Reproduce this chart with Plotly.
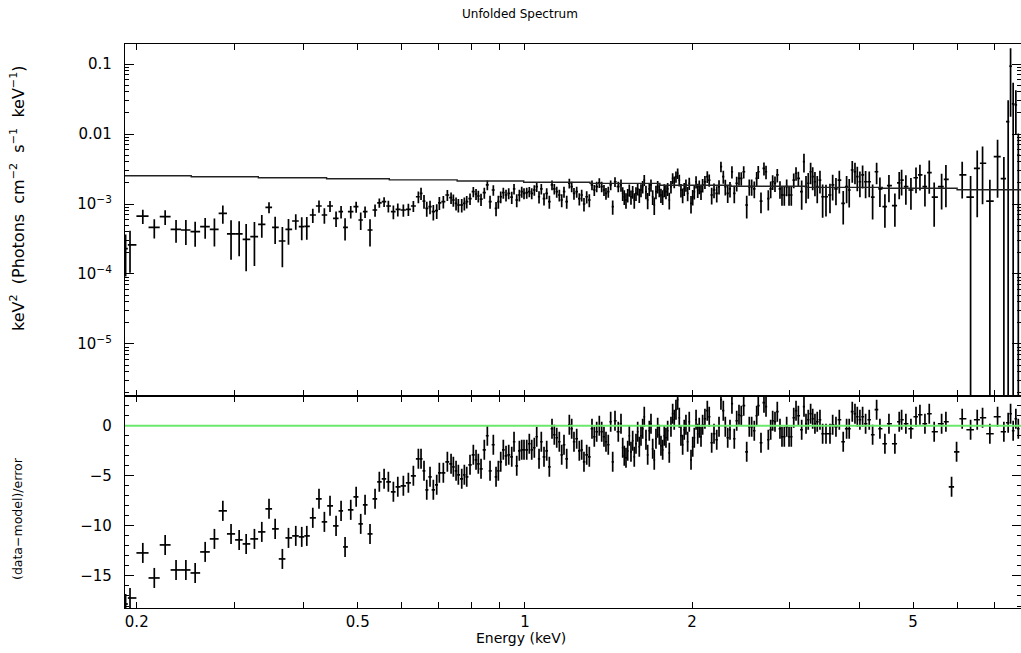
import numpy as np
import plotly.graph_objects as go

# ---------------- data ----------------
energy = [
    0.191, 0.1945, 0.2051, 0.2151, 0.2250, 0.2354, 0.2452, 0.2548, 0.2656, 0.2760,
    0.2858, 0.2957, 0.3058, 0.3148, 0.3258, 0.3359, 0.3461, 0.3550, 0.3658, 0.3752,
    0.3867, 0.3964, 0.4048, 0.4150, 0.4258, 0.4354, 0.4457, 0.4570, 0.4666, 0.4744,
    0.4857, 0.4967, 0.5062, 0.5154, 0.5261, 0.5372, 0.5468, 0.5577, 0.5677, 0.5796,
    0.5903, 0.6041, 0.6168, 0.6297, 0.6429,
    0.6500, 0.6581, 0.6656, 0.6747, 0.6840, 0.6937, 0.7013, 0.7130, 0.7250, 0.7362,
    0.7432, 0.7516, 0.7588, 0.7695, 0.7779, 0.7856, 0.7964, 0.8074, 0.8165, 0.8243,
    0.8336, 0.8450, 0.8557, 0.8653, 0.8772, 0.8871, 0.8956, 0.9045, 0.9143, 0.9246,
    0.9350, 0.9468, 0.9558, 0.9666, 0.9772, 0.9868, 0.9962, 1.0075, 1.0183, 1.0286,
    1.0397, 1.0501, 1.0602, 1.0702, 1.0823, 1.0945, 1.1065, 1.1188, 1.1296, 1.1409,
    1.1533, 1.1647, 1.1758, 1.1891, 1.2021, 1.2140, 1.2255, 1.2394, 1.2529, 1.2653,
    1.2774, 1.2918, 1.3059, 1.3205, 1.3332, 1.3465, 1.3612, 1.3747, 1.3878, 1.3994,
    1.4128, 1.4269, 1.4389, 1.4527, 1.4726,
    1.4892, 1.4998, 1.5097, 1.5204, 1.5312, 1.5414, 1.5522, 1.5632, 1.5735, 1.5847,
    1.5959, 1.6066, 1.6179, 1.6293, 1.6401, 1.6517, 1.6635, 1.6746, 1.6864, 1.6983,
    1.7095, 1.7216, 1.7339, 1.7455, 1.7577, 1.7701, 1.7818, 1.7944, 1.8072, 1.8193,
    1.8321, 1.8450, 1.8572, 1.8704, 1.8837, 1.8963, 1.9095, 1.9230, 1.9357, 1.9494,
    1.9633, 1.9764, 1.9909, 2.005, 2.018, 2.033, 2.047, 2.060, 2.075, 2.089,
    2.109, 2.130, 2.147, 2.169, 2.190, 2.215, 2.236, 2.254, 2.276, 2.295,
    2.318, 2.340, 2.359, 2.382, 2.406, 2.429, 2.452, 2.477, 2.508, 2.535,
    2.560, 2.588, 2.614, 2.631, 2.661, 2.694, 2.717, 2.743, 2.770, 2.793,
    2.820, 2.847, 2.879, 2.903, 2.931, 2.960, 2.989, 3.017, 3.048, 3.077,
    3.107,
    3.150, 3.180, 3.207, 3.237, 3.269, 3.297, 3.328, 3.360, 3.398, 3.436,
    3.484, 3.542, 3.582, 3.631, 3.682, 3.742, 3.795, 3.836, 3.885, 3.929,
    3.967, 4.010, 4.055, 4.106, 4.168, 4.227, 4.298, 4.357, 4.448, 4.523,
    4.636, 4.720, 4.767, 4.852, 4.955, 5.060, 5.143, 5.251, 5.346, 5.456,
    5.627, 5.728, 5.864, 5.987, 6.128, 6.345, 6.522, 6.668, 6.873, 7.096,
    7.284, 7.415, 7.489, 7.570, 7.655, 7.733,
]

# keV^2 (Photons cm^-2 s^-1 keV^-1); None = not shown on the log panel
flux = [
    2.3e-4, 2.6e-4, 6.73e-4, 4.64e-4, 6.58e-4, 4.35e-4, 4.25e-4, 4.02e-4, 4.74e-4, 4.35e-4,
    7.36e-4, 3.73e-4, 3.73e-4, 3.13e-4, 3.42e-4, 5.13e-4, 8.96e-4, 4.64e-4, 2.96e-4, 4.35e-4,
    5.72e-4, 4.74e-4, 4.8e-4, 6.96e-4, 9.36e-4, 6.96e-4, 9.36e-4, 6.24e-4, 7.77e-4, 4.64e-4,
    7.77e-4, 9.15e-4, 5.91e-4, 7.77e-4, 4.25e-4, 8.21e-4, 1.04e-3, 1.08e-3, 9.36e-4, 7.77e-4,
    8.39e-4, 8.21e-4, 8.39e-4, 9.36e-4, 1.27e-3,
    1.42e-3, 1.10e-3, 8.67e-4, 9.15e-4, 7.77e-4, 8.02e-4, 1.04e-3, 1.08e-3, 1.345e-3, 1.23e-3,
    1.14e-3, 1.02e-3, 9.67e-4, 9.67e-4, 1.02e-3, 1.08e-3, 1.19e-3, 1.50e-3, 1.39e-3, 1.30e-3,
    1.17e-3, 1.45e-3, 1.87e-3, 1.08e-3, 1.585e-3, 8.67e-4, 1.08e-3, 1.27e-3, 1.45e-3, 1.345e-3,
    1.42e-3, 1.25e-3, 1.65e-3, 1.14e-3, 1.345e-3, 1.50e-3, 1.42e-3, 1.45e-3, 1.50e-3, 1.42e-3,
    1.585e-3, 1.77e-3, 1.27e-3, 1.65e-3, 1.19e-3, 1.42e-3, 1.08e-3, 1.87e-3, 1.65e-3, 1.50e-3,
    1.345e-3, 1.14e-3, 1.50e-3, 1.08e-3, 1.98e-3, 1.77e-3, 1.42e-3, 1.50e-3, 1.19e-3, 1.345e-3,
    1.00e-3, 1.27e-3, 1.14e-3, 1.87e-3, 1.585e-3, 1.77e-3, 2.01e-3, 1.77e-3, 1.585e-3, 1.42e-3,
    1.50e-3, 1.87e-3, 9.15e-4, 2.08e-3, 1.77e-3,
    1.87e-3, 1.42e-3, 1.27e-3, 1.14e-3, 1.345e-3, 1.585e-3, 1.27e-3, 1.50e-3, 1.14e-3, 1.42e-3,
    1.65e-3, 1.345e-3, 1.585e-3, 1.77e-3, 2.20e-3, 1.50e-3, 1.14e-3, 1.65e-3, 1.87e-3, 1.27e-3,
    9.67e-4, 1.50e-3, 1.77e-3, 1.585e-3, 1.345e-3, 1.27e-3, 1.585e-3, 1.50e-3, 1.65e-3, 1.14e-3,
    1.77e-3, 2.33e-3, 2.08e-3, 2.46e-3, 2.75e-3, 2.20e-3, 1.585e-3, 1.345e-3, 1.65e-3, 1.87e-3,
    1.42e-3, 1.98e-3, 1.02e-3, 1.27e-3, 1.50e-3, 2.08e-3, 1.585e-3, 1.77e-3, 1.50e-3, 1.87e-3,
    2.08e-3, 2.46e-3, 2.20e-3, 1.345e-3, 1.585e-3, 1.42e-3, 1.77e-3, 3.42e-3, 2.46e-3, 1.77e-3,
    1.42e-3, 1.65e-3, 2.89e-3, 1.42e-3, 1.98e-3, 2.33e-3, 2.33e-3, 2.89e-3, 9.67e-4, 1.77e-3,
    1.77e-3, 1.65e-3, 2.33e-3, 2.89e-3, 1.10e-3, 3.23e-3, 2.89e-3, 1.19e-3, 1.65e-3, 2.08e-3,
    1.98e-3, 2.60e-3, 1.65e-3, 1.345e-3, 1.345e-3, 1.77e-3, 1.345e-3, 1.345e-3, 2.20e-3, 2.75e-3,
    2.33e-3,
    1.50e-3, 4.02e-3, 1.77e-3, 1.98e-3, 2.89e-3, 2.46e-3, 2.08e-3, 1.77e-3, 2.20e-3, 1.27e-3,
    1.27e-3, 1.345e-3, 1.87e-3, 1.65e-3, 2.20e-3, 1.02e-3, 1.77e-3, 1.585e-3, 3.06e-3, 2.89e-3,
    2.46e-3, 2.08e-3, 2.60e-3, 2.08e-3, 2.08e-3, 1.25e-3, 2.89e-3, 1.65e-3, 9.15e-4, 1.83e-3,
    9.45e-4, 2.01e-3, 2.20e-3, 1.77e-3, 1.585e-3, 2.37e-3, 2.60e-3, 1.77e-3, 2.80e-3, 1.25e-3,
    1.77e-3, 2.25e-3, None, None, 2.60e-3, 1.25e-3, 3.23e-3, 3.82e-3, 1.10e-3, 4.74e-3,
    2.3e-3, 1.5e-2, 9.3e-2, 2.7e-2, 2.6e-2, 5.0e-3,
]

# relative (1 sigma) error on each unfolded flux point
flux_rel_err = [
    0.6, 0.6, 0.23, 0.31, 0.24, 0.36, 0.39, 0.39, 0.33, 0.43,
    0.29, 0.57, 0.52, 0.65, 0.62, 0.36, 0.18, 0.42, 0.58, 0.40,
    0.25, 0.36, 0.36, 0.23, 0.20, 0.25, 0.18, 0.25, 0.20, 0.35,
    0.20, 0.18, 0.28, 0.19, 0.42, 0.20, 0.15, 0.16, 0.19, 0.22,
    0.21, 0.20, 0.20, 0.18, 0.19,
    0.20, 0.22, 0.24, 0.22, 0.25, 0.24, 0.21, 0.20, 0.18, 0.19,
    0.20, 0.21, 0.22, 0.22, 0.21, 0.20, 0.19, 0.17, 0.18, 0.19,
    0.20, 0.18, 0.16, 0.21, 0.17, 0.23, 0.21, 0.19, 0.18, 0.19,
    0.18, 0.20, 0.17, 0.21, 0.19, 0.18, 0.18, 0.18, 0.17, 0.18,
    0.17, 0.16, 0.20, 0.17, 0.20, 0.18, 0.21, 0.16, 0.17, 0.18,
    0.19, 0.21, 0.18, 0.21, 0.16, 0.17, 0.19, 0.18, 0.20, 0.19,
    0.22, 0.20, 0.21, 0.16, 0.18, 0.17, 0.16, 0.17, 0.18, 0.19,
    0.18, 0.16, 0.23, 0.16, 0.17,
    0.20, 0.22, 0.24, 0.25, 0.22, 0.20, 0.23, 0.21, 0.25, 0.22,
    0.20, 0.23, 0.21, 0.20, 0.18, 0.22, 0.26, 0.21, 0.20, 0.24,
    0.28, 0.22, 0.20, 0.21, 0.23, 0.24, 0.21, 0.22, 0.21, 0.27,
    0.20, 0.18, 0.19, 0.18, 0.17, 0.19, 0.22, 0.24, 0.21, 0.20,
    0.23, 0.20, 0.28, 0.25, 0.23, 0.20, 0.23, 0.22, 0.24, 0.22,
    0.21, 0.19, 0.20, 0.27, 0.24, 0.26, 0.23, 0.17, 0.21, 0.25,
    0.27, 0.25, 0.20, 0.28, 0.24, 0.22, 0.22, 0.20, 0.36, 0.26,
    0.26, 0.27, 0.23, 0.21, 0.33, 0.21, 0.22, 0.32, 0.27, 0.24,
    0.25, 0.22, 0.28, 0.30, 0.30, 0.27, 0.30, 0.30, 0.24, 0.22,
    0.24,
    0.45, 0.30, 0.42, 0.40, 0.34, 0.36, 0.38, 0.42, 0.36, 0.50,
    0.48, 0.45, 0.40, 0.42, 0.36, 0.50, 0.42, 0.44, 0.34, 0.34,
    0.38, 0.40, 0.36, 0.42, 0.40, 0.52, 0.34, 0.45, 0.50, 0.42,
    0.50, 0.42, 0.40, 0.45, 0.48, 0.40, 0.40, 0.48, 0.50, 0.62,
    0.53, 0.60, None, None, 0.54, 1.01, 0.80, 0.74, 1.02, 0.74,
    1.04, 1.03, 0.81, 1.0, 0.62, 1.04,
]

# (data-model)/error
residual = [
    -17.8, -17.2, -12.7, -15.2, -11.9, -14.4, -14.4, -14.7, -12.6, -11.3,
    -8.5, -10.8, -11.4, -11.8, -11.3, -10.6, -8.3, -10.3, -13.3, -11.2,
    -11.0, -11.1, -11.0, -9.2, -7.3, -9.6, -8.0, -10.0, -8.5, -12.1,
    -8.4, -7.1, -9.8, -7.9, -10.8, -7.3, -5.6, -5.3, -5.6, -6.6,
    -6.1, -6.0, -5.7, -5.0, -3.3,
    -3.3, -4.5, -6.4, -5.1, -6.4, -5.9, -4.7, -4.7, -3.6, -3.8,
    -4.1, -4.5, -4.9, -5.3, -4.9, -5.1, -3.9, -2.9, -3.4, -3.8,
    -4.3, -2.4, -1.0, -4.5, -1.9, -5.1, -4.5, -3.6, -2.4, -3.0,
    -2.9, -3.1, -1.6, -4.0, -2.5, -2.4, -2.4, -2.4, -1.8, -2.4,
    -2.2, -1.1, -3.3, -1.6, -3.1, -2.5, -4.1, -0.3, -0.9, -1.2,
    -1.6, -2.9, -1.9, -3.3, 0.1, -0.3, -1.6, -1.3, -2.5, -2.4,
    -3.6, -2.9, -3.1, -0.3, -1.1, -0.6, 0.0, -0.6, -1.1, -1.6,
    -1.9, 0.4, -3.6, 0.5, -0.6,
    0.2, -2.2, -3.0, -3.2, -2.5, -1.0, -2.6, -1.5, -3.1, -1.8,
    -0.6, -2.1, -1.0, -0.3, 0.9, -1.4, -2.9, -0.5, 0.2, -2.3,
    -3.4, -1.3, -0.2, -0.9, -2.0, -2.4, -1.0, -1.2, -0.5, -2.7,
    -0.1, 1.2, 0.6, 1.6, 2.6, 0.8, -1.0, -1.9, -0.4, 0.1,
    -1.6, 0.4, -3.4, -2.1, -1.2, 0.6, -0.8, -0.2, -1.1, 0.1,
    0.7, 1.5, 0.9, -1.7, -0.8, -1.4, -0.1, 2.6, 1.5, -0.1,
    -1.2, -0.4, 2.2, -1.3, 0.5, 1.1, 1.0, 2.0, -2.6, -0.1,
    -0.1, -0.5, 1.0, 2.0, -1.7, 2.3, 1.9, -1.4, -0.4, 0.5,
    0.4, 1.4, -0.3, -1.1, -1.1, -0.1, -1.1, -1.1, 0.8, 1.5,
    1.0,
    -0.4, 1.9, 0.2, 0.6, 1.2, 0.7, 0.2, 0.4, 0.6, -0.8,
    -0.8, -0.8, 0.1, -0.1, 0.6, -1.6, -0.3, -0.3, 1.4, 1.2,
    0.9, 0.6, 0.9, 0.2, 0.6, -0.9, 1.6, -0.3, -1.8, 0.2,
    -1.8, 0.4, 0.6, 0.2, -0.3, 0.9, 1.1, 0.2, 1.2, -0.6,
    0.2, 0.4, -6.1, -2.6, 0.7, -0.4, 0.6, 0.8, -0.8, 0.9,
    -0.6, 0.3, 1.2, -0.5, 0.7, -0.3,
]
residual_err = 1.0

# folded model (step curve) in the same units as flux
model_energy = [0.1905, 0.2507, 0.3311, 0.4394, 0.5699, 0.755, 0.995, 1.31, 1.75,
                2.35, 3.2, 4.4, 6.0, 7.82]
model_flux = [2.53e-3, 2.45e-3, 2.37e-3, 2.29e-3, 2.21e-3, 2.13e-3, 2.05e-3, 1.97e-3,
              1.85e-3, 1.79e-3, 1.73e-3, 1.68e-3, 1.60e-3, 1.55e-3]

x_tick_vals = [0.2, 0.5, 1, 2, 5]
x_tick_text = ["0.2", "0.5", "1", "2", "5"]
y_top_tick_vals = [1e-5, 1e-4, 1e-3, 1e-2, 1e-1]
y_top_tick_text = ["10<sup>\u22125</sup>", "10<sup>\u22124</sup>", "10<sup>\u22123</sup>", "0.01", "0.1"]
y_bot_tick_vals = [-15, -10, -5, 0]
y_bot_tick_text = ["\u221215", "\u221210", "\u22125", "0"]

assert len(energy) == len(flux) == len(flux_rel_err) == len(residual), (
    len(energy), len(flux), len(flux_rel_err), len(residual))

# ---------------- derived bin half-widths ----------------
E = np.array(energy, dtype=float)
logE = np.log10(E)
mid = (logE[:-1] + logE[1:]) / 2
lo = np.concatenate([[2 * logE[0] - mid[0]], mid])
hi = np.concatenate([mid, [2 * logE[-1] - mid[-1]]])
x_plus = 10 ** hi - E
x_minus = E - 10 ** lo

top_idx = [i for i, f in enumerate(flux) if f is not None]
e_top = E[top_idx]
f_top = np.array([flux[i] for i in top_idx])
ferr_top = np.array([flux[i] * flux_rel_err[i] for i in top_idx])

# ---------------- figure ----------------
FONT = "DejaVu Sans"
INK = "black"
BAR_W = 1.7

fig = go.Figure()

fig.add_trace(go.Scatter(
    x=e_top, y=f_top, mode="markers", xaxis="x2", yaxis="y2",
    marker=dict(size=1, color="rgba(0,0,0,0)"),
    error_x=dict(type="data", symmetric=False, array=x_plus[top_idx], arrayminus=x_minus[top_idx],
                 width=0, thickness=BAR_W, color=INK),
    error_y=dict(type="data", array=ferr_top, width=0, thickness=BAR_W, color=INK),
    showlegend=False, hoverinfo="skip"))

fig.add_trace(go.Scatter(
    x=model_energy, y=model_flux, mode="lines", xaxis="x2", yaxis="y2",
    line=dict(color="#222222", width=1.4, shape="hv"),
    showlegend=False, hoverinfo="skip"))

fig.add_trace(go.Scatter(
    x=E, y=residual, mode="markers", xaxis="x", yaxis="y",
    marker=dict(size=1, color="rgba(0,0,0,0)"),
    error_x=dict(type="data", symmetric=False, array=x_plus, arrayminus=x_minus,
                 width=0, thickness=BAR_W, color=INK),
    error_y=dict(type="constant", value=residual_err, width=0, thickness=BAR_W, color=INK),
    showlegend=False, hoverinfo="skip"))

x_range = [np.log10(0.1905), np.log10(7.82)]
x_minor = [0.3, 0.4, 0.6, 0.7, 0.8, 0.9, 3, 4, 6, 7]
y_minor = [k * 10.0 ** n for n in range(-6, 0) for k in range(2, 10)]

axis_common = dict(showline=True, linecolor=INK, linewidth=1.3, showgrid=False, zeroline=False,
                   ticks="inside", tickcolor=INK, tickwidth=1.2, mirror="ticks",
                   tickfont=dict(family=FONT, size=15, color=INK))

bot_frac = 212.3 / 564.0


def px_x(px):
    return (px - 125) / 896


def px_y(py):
    return (608 - py) / 564


fig.update_layout(
    width=1021, height=653,
    margin=dict(l=125, r=0, t=44, b=45),
    paper_bgcolor="white", plot_bgcolor="white",
    font=dict(family=FONT, color=INK),
    xaxis=dict(axis_common, type="log", range=x_range, domain=[0, 1], anchor="y",
               tickvals=x_tick_vals, ticktext=x_tick_text, ticklen=6,
               ticklabelstandoff=0,
               minor=dict(tickvals=x_minor, ticks="inside", ticklen=6, tickcolor=INK)),
    xaxis2=dict(axis_common, type="log", range=x_range, domain=[0, 1], anchor="y2",
                matches="x", tickvals=x_tick_vals, ticklen=6, showticklabels=False,
                minor=dict(tickvals=x_minor, ticks="inside", ticklen=6, tickcolor=INK)),
    yaxis=dict(axis_common, range=[-18.2, 3.0], domain=[0, bot_frac], anchor="x",
               tickvals=y_bot_tick_vals, ticktext=y_bot_tick_text, ticklen=9,
               ticklabelstandoff=9,
               minor=dict(dtick=1, ticks="inside", ticklen=4, tickcolor=INK)),
    yaxis2=dict(axis_common, type="log", range=[-5.739, -0.714], domain=[bot_frac, 1], anchor="x2",
                tickvals=y_top_tick_vals, ticktext=y_top_tick_text, ticklen=9,
                ticklabelstandoff=9,
                minor=dict(tickvals=y_minor, ticks="inside", ticklen=4, tickcolor=INK)),
    shapes=[dict(type="line", xref="paper", x0=0, x1=1, yref="y", y0=0, y1=0,
                 line=dict(color="#6BE86B", width=1.8), layer="above")],
    annotations=[
        dict(text="Unfolded Spectrum", xref="paper", yref="paper",
             x=px_x(520), y=px_y(14), xanchor="center", yanchor="middle", showarrow=False,
             font=dict(family=FONT, size=12, color=INK)),
        dict(text="keV<sup>2</sup>  (Photons  cm<sup>\u22122</sup>  s<sup>\u22121</sup>  keV<sup>\u22121</sup>)",
             xref="paper", yref="paper", x=px_x(17), y=px_y(198),
             xanchor="center", yanchor="middle",
             textangle=-90, showarrow=False, font=dict(family=FONT, size=16, color=INK)),
        dict(text="(data\u2212model)/error", xref="paper", yref="paper",
             x=px_x(17), y=px_y(519), xanchor="center", yanchor="middle",
             textangle=-90, showarrow=False,
             font=dict(family=FONT, size=12.5, color=INK)),
        dict(text="Energy (keV)", xref="paper", yref="paper",
             x=px_x(521), y=px_y(638), xanchor="center", yanchor="middle", showarrow=False,
             font=dict(family=FONT, size=14, color=INK)),
    ],
)

fig.write_html("out.html")
